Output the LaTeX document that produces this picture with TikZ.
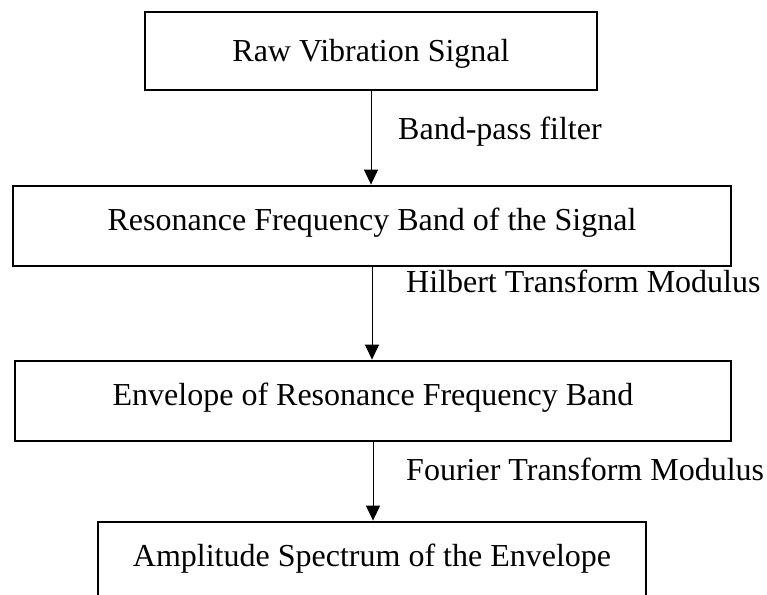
\documentclass[tikz,border=0pt]{standalone}
\usepackage{fontspec}
\setmainfont{Liberation Serif}
\usetikzlibrary{arrows.meta}
\begin{document}
\begin{tikzpicture}[x=1pt,y=1pt,
  box/.style={draw=black, line width=2.8pt, rectangle, inner sep=0pt,
    font=\fontsize{32}{38}\selectfont, text depth=7pt},
  lab/.style={anchor=west, inner sep=0pt, font=\fontsize{32}{38}\selectfont,
    text height=22pt, text depth=7pt},
  arr/.style={line width=1pt, -{Triangle[width=14pt,length=15pt]}}]
\clip (0,0) rectangle (767,-594);
\fill[white] (0,0) rectangle (767,-594);
\node[box, minimum width=452pt, minimum height=78pt, text height=27pt] (b1) at (371,-51) {Raw Vibration Signal};
\node[box, minimum width=718pt, minimum height=80pt, text height=15pt] (b2) at (372,-226) {Resonance Frequency Band of the Signal};
\node[box, minimum width=716pt, minimum height=80pt, text height=15pt] (b3) at (373,-401) {Envelope of Resonance Frequency Band};
\node[box, minimum width=548pt, minimum height=80pt, text height=15pt] (b4) at (372,-562) {Amplitude Spectrum of the Envelope};
\draw[arr] (b1.south) -- (b1.south |- b2.north);
\draw[arr] (b2.south) -- (b2.south |- b3.north);
\draw[arr] (b3.south) -- (b3.south |- b4.north);
\node[lab] (l1) at (398,-132) {Band-pass filter};
\node[lab] (l2) at (406,-285) {Hilbert Transform Modulus};
\node[lab] (l3) at (406,-473) {Fourier Transform Modulus};
\end{tikzpicture}
\end{document}
